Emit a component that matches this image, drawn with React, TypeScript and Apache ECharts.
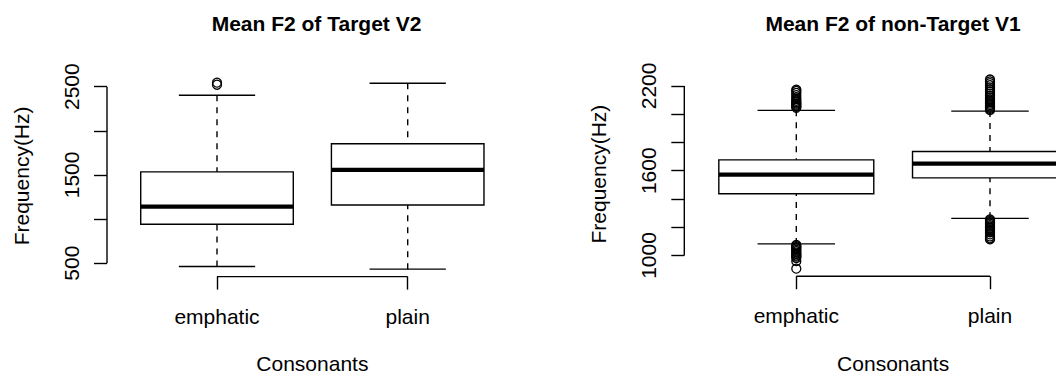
import { useEffect, useRef } from "react";
import * as echarts from "echarts";

// Consonant groups on the x axis of both panels
const categories = ["emphatic", "plain"];

// Five-number summaries per consonant group:
// [lower whisker, Q1, median, Q3, upper whisker]
const targetV2Stats = [
  [462, 940, 1141, 1534, 2402],
  [432, 1159, 1557, 1852, 2538],
];
const targetV2Outliers = [[2522, 2545], []];

const nonTargetV1Stats = [
  [1082, 1437, 1572, 1677, 2027],
  [1263, 1549, 1650, 1736, 2022],
];
const nonTargetV1Outliers = [
  [
    907, 960, 982, 992, 1000, 1010, 1020, 1030, 1040, 1050, 1058, 1066, 1074,
    2045, 2052, 2060, 2068, 2076, 2085, 2095, 2108, 2120, 2135, 2150, 2164, 2174,
  ],
  [
    1115, 1122, 1135, 1150, 1165, 1175, 1185, 1195, 1205, 1215, 1225, 1235, 1245, 1255,
    2030, 2038, 2045, 2055, 2065, 2075, 2085, 2095, 2105, 2118, 2130, 2145, 2160,
    2175, 2190, 2205, 2220, 2232, 2245,
  ],
];

const targetV2Ticks = [500, 1000, 1500, 2000, 2500];
const targetV2Labels = [500, 1500, 2500];
const nonTargetV1Ticks = [1000, 1200, 1400, 1600, 1800, 2000, 2200];
const nonTargetV1Labels = [1000, 1600, 2200];

const FONT = '"Liberation Sans", Arial, Helvetica, sans-serif';
const INK = "#000";
const LINE_W = 1.4;

// Axis limits padded 4% beyond the data range on each side
function paddedRange(stats: number[][], outliers: number[][]) {
  const all = [...stats.flat(), ...outliers.flat()];
  const lo = Math.min(...all);
  const hi = Math.max(...all);
  const pad = (hi - lo) * 0.04;
  return [lo - pad, hi + pad];
}

const boxRenderItem = (params: any, api: any) => {
  const idx = api.value(0);
  const cx = api.coord([idx, api.value(3)])[0];
  const band = api.size([1, 0])[0];
  const half = band * 0.4;
  const cap = band * 0.2;
  const y = (i: number) => api.coord([idx, api.value(i)])[1];
  const yMin = y(1);
  const yQ1 = y(2);
  const yMed = y(3);
  const yQ3 = y(4);
  const yMax = y(5);
  const stroke = { stroke: INK, lineWidth: LINE_W };
  const dashed = { ...stroke, lineDash: [6, 6] };
  return {
    type: "group",
    children: [
      { type: "line", shape: { x1: cx, y1: yMax, x2: cx, y2: yQ3 }, style: dashed },
      { type: "line", shape: { x1: cx, y1: yMin, x2: cx, y2: yQ1 }, style: dashed },
      { type: "line", shape: { x1: cx - cap, y1: yMax, x2: cx + cap, y2: yMax }, style: stroke },
      { type: "line", shape: { x1: cx - cap, y1: yMin, x2: cx + cap, y2: yMin }, style: stroke },
      {
        type: "rect",
        shape: { x: cx - half, y: yQ3, width: half * 2, height: yQ1 - yQ3 },
        style: { fill: "#fff", ...stroke },
      },
      {
        type: "line",
        shape: { x1: cx - half, y1: yMed, x2: cx + half, y2: yMed },
        style: { stroke: INK, lineWidth: 4.2 },
      },
    ],
  };
};

// R-style axis frame: y axis line spanning first..last tick, x bracket between categories
const frameRenderItem = (ticks: number[], offset: number) => (params: any, api: any) => {
  const cs = params.coordSys;
  const ax = cs.x - offset;
  const yTop = api.coord([0, ticks[ticks.length - 1]])[1];
  const yBot = api.coord([0, ticks[0]])[1];
  const x0 = api.coord([0, ticks[0]])[0];
  const x1 = api.coord([categories.length - 1, ticks[0]])[0];
  const by = cs.y + cs.height;
  const style = { stroke: INK, lineWidth: LINE_W };
  return {
    type: "group",
    children: [
      { type: "line", shape: { x1: ax, y1: yTop, x2: ax, y2: yBot }, style },
      { type: "line", shape: { x1: x0, y1: by, x2: x1, y2: by }, style },
    ],
  };
};

const panels = [
  {
    title: "Mean F2 of Target V2",
    titleX: 316.5,
    stats: targetV2Stats,
    outliers: targetV2Outliers,
    ticks: targetV2Ticks,
    labels: targetV2Labels,
    grid: { left: 121.65, top: 75.2, width: 381.4, height: 201.4 },
    offset: 14.65,
  },
  {
    title: "Mean F2 of non-Target V1",
    titleX: 893,
    stats: nonTargetV1Stats,
    outliers: nonTargetV1Outliers,
    ticks: nonTargetV1Ticks,
    labels: nonTargetV1Labels,
    grid: { left: 699.45, top: 72.0, width: 387.4, height: 204.2 },
    offset: 15.15,
  },
];

export default function App() {
  const ref = useRef<HTMLDivElement>(null);

  useEffect(() => {
    if (!ref.current) return;
    const chart = echarts.init(ref.current, null, { renderer: "svg" });

    const grid = panels.map((p) => ({
      ...p.grid,
      containLabel: false,
      outerBoundsMode: "none",
    }));

    const xAxis = panels.map((p, i) => ({
      type: "category",
      gridIndex: i,
      data: categories,
      boundaryGap: true,
      axisLine: { show: false },
      axisTick: {
        show: true,
        alignWithLabel: true,
        length: 13,
        lineStyle: { color: INK, width: LINE_W },
      },
      axisLabel: {
        show: true,
        interval: 0,
        margin: 29,
        color: INK,
        fontSize: 21,
        fontFamily: FONT,
      },
      splitLine: { show: false },
      name: "Consonants",
      nameLocation: "middle",
      nameGap: 79 - (p.grid.top + p.grid.height - 276.6),
      nameTextStyle: { color: INK, fontSize: 21, lineHeight: 15, fontFamily: FONT },
    }));

    const yAxis = panels.map((p, i) => {
      const [min, max] = paddedRange(p.stats, p.outliers);
      return {
        type: "value",
        gridIndex: i,
        min,
        max,
        offset: p.offset,
        axisLine: { show: false },
        axisTick: {
          show: true,
          length: 13,
          customValues: p.ticks,
          lineStyle: { color: INK, width: LINE_W },
        },
        axisLabel: {
          show: true,
          customValues: p.labels,
          formatter: (v: number) => String(v),
          rotate: 90,
          margin: 25,
          color: INK,
          fontSize: 21,
          fontFamily: FONT,
        },
        splitLine: { show: false },
        name: "Frequency(Hz)",
        nameLocation: "middle",
        nameRotate: 90,
        nameGap: 75,
        nameTextStyle: { color: INK, fontSize: 21, fontFamily: FONT },
      };
    });

    const series: any[] = [];
    panels.forEach((p, i) => {
      series.push({
        type: "custom",
        xAxisIndex: i,
        yAxisIndex: i,
        silent: true,
        z: 2,
        data: p.stats.map((s, k) => [k, ...s]),
        encode: { x: 0, y: [1, 2, 3, 4, 5] },
        renderItem: boxRenderItem,
      });
      series.push({
        type: "custom",
        xAxisIndex: i,
        yAxisIndex: i,
        silent: true,
        z: 1,
        data: [[0, p.ticks[0]]],
        encode: { x: 0, y: 1 },
        renderItem: frameRenderItem(p.ticks, p.offset),
      });
      series.push({
        type: "scatter",
        xAxisIndex: i,
        yAxisIndex: i,
        silent: true,
        z: 3,
        symbol: "circle",
        symbolSize: 9,
        itemStyle: { color: "transparent", borderColor: INK, borderWidth: 1.3, opacity: 1 },
        data: p.outliers.flatMap((vals, k) => vals.map((v) => [k, v])),
      });
    });

    const graphic = panels.map((p) => ({
      type: "text",
      x: p.titleX,
      y: 23,
      silent: true,
      style: {
        text: p.title,
        font: `bold 21px ${FONT}`,
        textAlign: "center",
        textVerticalAlign: "middle",
        fill: INK,
      },
    }));

    chart.setOption({
      animation: false,
      backgroundColor: "#fff",
      grid,
      xAxis,
      yAxis,
      series,
      graphic,
    });

    return () => chart.dispose();
  }, []);

  return (
    <div
      ref={ref}
      style={{ position: "absolute", left: 0, top: 0, width: 1056, height: 375 }}
    />
  );
}
